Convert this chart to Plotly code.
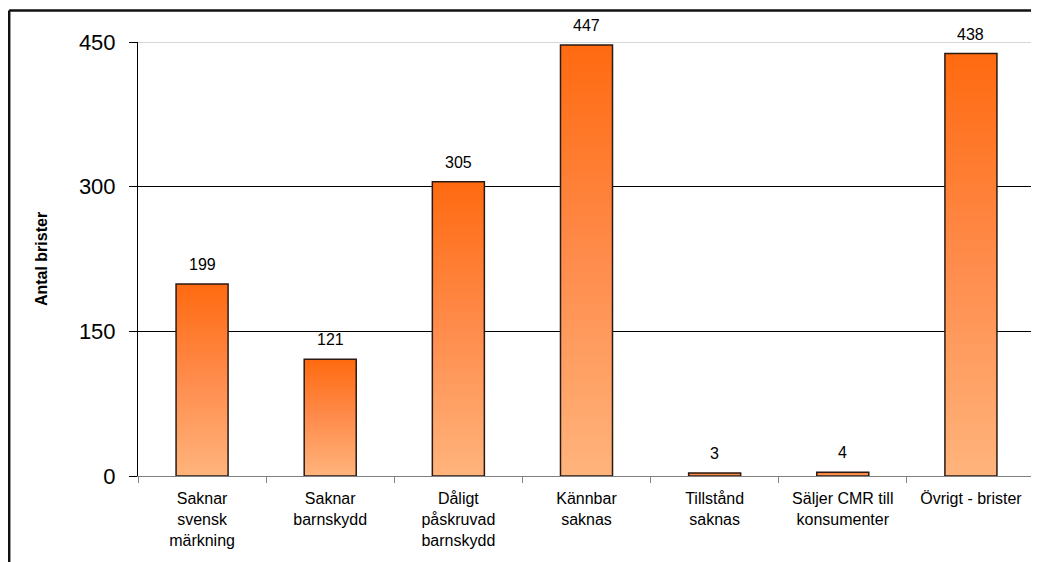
import plotly.graph_objects as go

categories = ["Saknar<br>svensk<br>märkning", "Saknar<br>barnskydd", "Dåligt<br>påskruvad<br>barnskydd",
              "Kännbar<br>saknas", "Tillstånd<br>saknas", "Säljer CMR till<br>konsumenter", "Övrigt - brister"]
values = [199, 121, 305, 447, 3, 4, 438]
y_ticks = [0, 150, 300, 450]
y_title = "Antal brister"

TOP = "#FF6A10"
BOTTOM = "#FFB47C"
EDGE = "#2a1a12"
half = 0.203

fig = go.Figure()
for i, v in enumerate(values):
    fig.add_trace(go.Scatter(
        x=[i - half, i + half, i + half, i - half, i - half],
        y=[0, 0, v, v, 0],
        mode="lines", fill="toself",
        fillgradient=dict(type="vertical", colorscale=[[0, BOTTOM], [0.5, "#FF8C4C"], [1, TOP]]),
        line=dict(color=EDGE, width=1.5),
        hoverinfo="skip", showlegend=False,
    ))

for i, v in enumerate(values):
    fig.add_annotation(x=i, y=v, text=str(v), showarrow=False, yanchor="bottom", yshift=9,
                       font=dict(family="Liberation Sans, Arial", size=16, color="black"))

# top gridline appears light gray
fig.add_shape(type="line", xref="paper", yref="y", x0=0, x1=1, y0=y_ticks[-1], y1=y_ticks[-1],
              line=dict(color="#c8c8c8", width=1.5), layer="above")
# outer frame
fig.add_shape(type="line", xref="paper", yref="paper", x0=-0.1436, x1=-0.1436, y0=1.0725, y1=-0.3,
              line=dict(color="#111", width=2.5))
fig.add_shape(type="line", xref="paper", yref="paper", x0=-0.1436, x1=1.05, y0=1.0725, y1=1.0725,
              line=dict(color="#111", width=2.5))

fig.update_layout(
    width=1031, height=554,
    margin=dict(l=130, r=4, t=34, b=86),
    paper_bgcolor="white", plot_bgcolor="white",
    font=dict(family="Liberation Sans, Arial", color="black"),
    showlegend=False,
)
fig.update_xaxes(
    range=[-0.5, len(values) - 0.5],
    tickmode="array", tickvals=list(range(len(values))), ticktext=categories,
    ticks="", showgrid=False, zeroline=False,
    showline=True, linecolor="#808080", linewidth=1,
    tickfont=dict(size=16),
    ticklabelstandoff=8,
    minor=dict(tickmode="array", tickvals=[k - 0.5 for k in range(len(values) + 1)],
               ticks="outside", ticklen=6, tickcolor="#808080", showgrid=False),
)
fig.update_yaxes(
    range=[0, 450], tickmode="array", tickvals=y_ticks,
    ticks="outside", ticklen=8, tickcolor="black",
    showline=True, linecolor="black", linewidth=1,
    showgrid=True, gridcolor="black", gridwidth=1, zeroline=False,
    tickfont=dict(size=22),
    ticklabelstandoff=9,
    title=dict(text="<b>" + y_title + "</b>", font=dict(size=16), standoff=27),
)

fig.write_html("out.html")
